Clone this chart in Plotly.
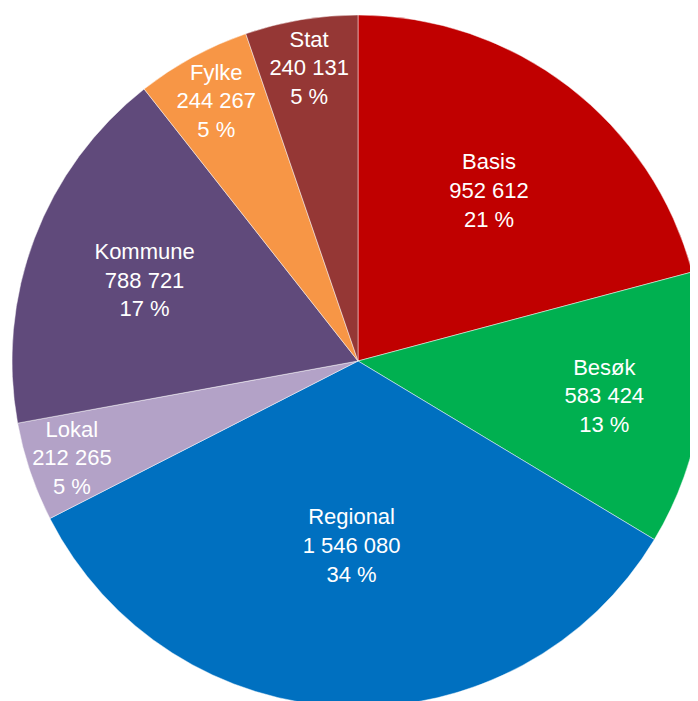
import plotly.graph_objects as go

labels = ["Basis", "Besøk", "Regional", "Lokal", "Kommune", "Fylke", "Stat"]
values = [952612, 583424, 1546080, 212265, 788721, 244267, 240131]
colors = ["#C00000", "#00B050", "#0070C0", "#B3A2C7", "#604A7B", "#F79646", "#953735"]

total = sum(values)
texts = [
    f"{lab}<br>{format(v, ',').replace(',', ' ')}<br>{round(100 * v / total)} %"
    for lab, v in zip(labels, values)
]

font = dict(family="Liberation Sans, Arial, sans-serif", size=22, color="white")

fig = go.Figure(
    go.Pie(
        labels=labels,
        values=values,
        text=texts,
        textinfo="text",
        textposition="inside",
        insidetextorientation="horizontal",
        sort=False,
        direction="clockwise",
        rotation=0,
        marker=dict(colors=colors, line=dict(color="rgba(255,255,255,0.6)", width=0.8)),
        textfont=font,
        insidetextfont=font,
        domain=dict(x=[4 / 698, 696 / 698], y=[2 / 701, 694 / 701]),
        showlegend=False,
        hoverinfo="label+value+percent",
    )
)

fig.update_layout(
    width=698,
    height=701,
    margin=dict(l=0, r=0, t=0, b=0),
    paper_bgcolor="white",
    plot_bgcolor="white",
    uniformtext=dict(minsize=22, mode="show"),
)

fig.write_html("out.html")
